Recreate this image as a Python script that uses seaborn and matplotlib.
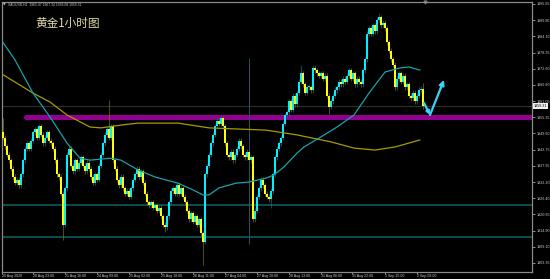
import numpy as np
import pandas as pd
import matplotlib
matplotlib.use("Agg")
import matplotlib.pyplot as plt
import seaborn as sns

# ---------------- data ----------------
closes = [1948, 1945, 1942, 1940,
          1937, 1934, 1932, 1933, 1931,
          1935, 1940, 1944, 1946, 1944,
          1947, 1950, 1951, 1948, 1952,
          1949, 1946, 1948, 1950, 1947,
          1946, 1944, 1940,
          1935, 1934,
          1928, 1917,
          1930, 1942, 1944,
          1938, 1936, 1940, 1937, 1939, 1941, 1938, 1936, 1939, 1937,
          1934, 1932, 1935, 1933,
          1938, 1942, 1946,
          1949, 1951, 1948, 1952,
          1940, 1937,
          1933, 1931, 1934,
          1930, 1928, 1929, 1927, 1930,
          1933, 1935, 1937, 1934, 1936,
          1932, 1928, 1925,
          1924, 1925, 1923, 1924, 1922, 1923,
          1920, 1917, 1916,
          1920, 1925, 1929,
          1930, 1928, 1931,
          1928, 1930, 1927,
          1925, 1922, 1919, 1921,
          1918, 1920, 1917, 1919,
          1914, 1911,
          1935,
          1938, 1942, 1946, 1949,
          1952, 1954, 1953, 1955, 1952,
          1946, 1942,
          1941, 1943, 1940, 1942,
          1944, 1947, 1945,
          1942, 1941, 1943, 1940, 1941,
          1919,
          1922, 1927,
          1930, 1933, 1931,
          1928, 1927, 1926, 1929,
          1935, 1941,
          1944, 1946, 1948,
          1953, 1956, 1957,
          1961, 1958,
          1963, 1960, 1964,
          1968, 1971,
          1967, 1964, 1966,
          1966, 1965,
          1973,
          1972, 1971, 1970, 1971, 1969, 1970,
          1963, 1959,
          1961, 1963, 1965,
          1966, 1968, 1967, 1969, 1968,
          1970, 1972, 1969,
          1971, 1967, 1969,
          1968, 1967,
          1972, 1976,
          1985,
          1987, 1985, 1988, 1986,
          1990, 1991,
          1988, 1989, 1987,
          1982, 1979,
          1976, 1974,
          1966,
          1969, 1971, 1968, 1970,
          1966, 1967,
          1963, 1962, 1964, 1961, 1963,
          1965, 1965.47,
          1959.31]
first_open = 1950.0
wick_up = 0.9
wick_dn = 0.9
high_override = {0: 1955.0, 33: 1945.4, 53: 1961.4, 149: 1974.0, 188: 1992.5, 210: 1967.34}
low_override = {30: 1911.5, 81: 1914.4, 100: 1902.6, 134: 1922.9, 163: 1956.5, 210: 1958.08}
spike_bar = 123
spike_range = (1910.0, 1976.4)

ma_fast_x = [-1.5, 6, 15, 23.5, 32, 38.5, 43.5, 54, 59, 67.5, 76, 87.5, 95, 100, 103, 108,
             116.5, 123, 131.5, 135.5, 140.5, 147, 150.5, 159, 167, 175.5, 183, 191, 198, 203, 208.5]
ma_fast_y = [1983.5, 1975.7, 1963.9, 1955.4, 1946.1, 1940.7, 1940.0, 1940.7, 1940.0, 1936.5, 1934.0,
             1931.8, 1929.4, 1927.6, 1927.6, 1930.1, 1931.8, 1932.2, 1933.6, 1934.7, 1937.6, 1942.5,
             1944.7, 1948.3, 1951.8, 1956.1, 1963.9, 1971.4, 1972.8, 1973.2, 1972.1]
ma_slow_x = [-1.5, 15, 23.5, 32, 43.5, 49, 59, 67.5, 87.5, 103, 131.5, 147, 164, 175.5, 186, 196, 208.5]
ma_slow_y = [1971.1, 1963.9, 1960.7, 1956.1, 1951.8, 1951.5, 1952.5, 1953.2, 1953.2, 1951.5,
             1950.7, 1949.0, 1946.5, 1944.3, 1943.6, 1944.7, 1947.2]

support_band = 1955.25
teal_levels = [1924.0, 1912.6]
bid_price = 1959.31

arrow_pts_x = [210.5, 213.5, 220.5]
arrow_pts_y = [1960.4, 1956.1, 1968.6]

yticks = [1995.65, 1989.90, 1984.10, 1978.35, 1972.60, 1966.80, 1961.05, 1955.25, 1949.50,
          1943.75, 1937.95, 1932.20, 1926.40, 1920.65, 1914.90, 1909.10, 1903.35]
xtick_pos = [-0.5, 15, 31, 47, 63, 79, 95, 111, 127, 143, 159, 174.5, 191, 207]
xtick_labels = ["20 Aug 2020", "20 Aug 23:00", "21 Aug 16:00", "24 Aug 09:00", "25 Aug 02:00",
                "25 Aug 18:00", "26 Aug 11:00", "27 Aug 04:00", "27 Aug 20:00", "28 Aug 13:00",
                "31 Aug 06:00", "31 Aug 22:00", "1 Sep 15:00", "2 Sep 08:00"]

# ---------------- build OHLC table ----------------
n = len(closes)
opens = [first_open] + closes[:-1]
df = pd.DataFrame({"i": np.arange(n), "open": opens, "close": closes})
df["high"] = [high_override.get(k, max(o, c) + wick_up) for k, o, c in zip(df.i, df.open, df.close)]
df["low"] = [low_override.get(k, min(o, c) - wick_dn) for k, o, c in zip(df.i, df.open, df.close)]
df["up"] = df.close >= df.open

# ---------------- style ----------------
sns.set_theme(style="dark")
plt.rcParams.update({
    "axes.facecolor": "black", "figure.facecolor": "black",
    "savefig.facecolor": "black", "axes.grid": False,
})
plt.rcParams["font.family"] = ["Liberation Sans", "DejaVu Sans"]

CYAN = "#00f0ff"
YEL = "#ffff00"
fig = plt.figure(figsize=(5.5, 2.79), dpi=100)
ax = fig.add_axes([2 / 550, 1 - 272 / 279, 530 / 550, 270 / 279])
ax.set_facecolor("black")

# horizontal levels
ax.axhline(bid_price, color="#2e2e2e", lw=0.8, zorder=1)
for lv in teal_levels:
    ax.axhline(lv, color="#0d5258", lw=1.3, zorder=1)
ax.axhline(support_band, xmin=(11.5 + 0.5) / 265, xmax=1, color="#8e028e", lw=3.7, zorder=1)

# wicks
up = df[df.up]
dn = df[~df.up]
ax.vlines(up.i, up.low, up.high, color="#1b6a70", lw=0.5, zorder=2)
ax.vlines(dn.i, dn.low, dn.high, color="#7a7000", lw=0.5, zorder=2)
ax.vlines([spike_bar], [spike_range[0]], [spike_range[1]], color="#24585e", lw=0.7, zorder=2)

# bodies
body_lo = np.minimum(df.open, df.close)
body_h = np.maximum(np.abs(df.close - df.open), 0.3)
ax.bar(df.i[df.up], body_h[df.up], bottom=body_lo[df.up], width=0.62, color=CYAN, linewidth=0, zorder=3)
ax.bar(df.i[~df.up], body_h[~df.up], bottom=body_lo[~df.up], width=0.62, color=YEL, linewidth=0, zorder=3)

# moving averages
sns.lineplot(x=ma_slow_x, y=ma_slow_y, ax=ax, color="#a89a00", lw=0.9, zorder=4)
sns.lineplot(x=ma_fast_x, y=ma_fast_y, ax=ax, color="#17a3ad", lw=0.9, zorder=4)

# arrows
ax.annotate("", xy=(arrow_pts_x[1], arrow_pts_y[1]), xytext=(arrow_pts_x[0], arrow_pts_y[0]),
            arrowprops=dict(arrowstyle="-|>", color="#38d4f8", lw=1.6, mutation_scale=5,
                            shrinkA=0, shrinkB=0), zorder=6)
ax.annotate("", xy=(arrow_pts_x[2], arrow_pts_y[2]), xytext=(arrow_pts_x[1], arrow_pts_y[1]),
            arrowprops=dict(arrowstyle="-|>", color="#38d4f8", lw=1.6, mutation_scale=7,
                            shrinkA=0, shrinkB=0), zorder=6)

# axes
ax.set_xlim(-0.5, 264.5)
ax.set_ylim(1900.14, 1996.36)
ax.yaxis.tick_right()
ax.set_yticks(yticks)
ax.set_yticklabels([f"{v:.2f}" for v in yticks])
ax.set_xticks(xtick_pos)
ax.set_xticklabels(xtick_labels, ha="left")
ax.tick_params(axis="y", colors="#c8c8c8", labelsize=2.7, length=2, width=0.5, pad=1.5,
               left=False, right=True)
ax.tick_params(axis="x", colors="#c8c8c8", labelsize=2.6, length=1.5, width=0.5, pad=0.2,
               bottom=True)
for lab in ax.get_xticklabels():
    lab.set_color("#c8c8c8")
for lab in ax.get_yticklabels():
    lab.set_color("#c8c8c8")
for s in ax.spines.values():
    s.set_color("#8a8a8a")
    s.set_linewidth(0.9)
ax.set_xlabel("")
ax.set_ylabel("")

# texts
fig.text(35 / 550, 1 - 23 / 279, "黄金1小时图", fontsize=8.4, color="#e2dca4",
         family=["Noto Sans CJK SC", "DejaVu Sans"], va="center", ha="left")
fig.text(3 / 550, 1 - 4.5 / 279, "▼", fontsize=2.4, color="#c8c8c8", va="center", ha="left",
         family=["DejaVu Sans"])
fig.text(8 / 550, 1 - 4.5 / 279, "XAUUSD,H1  1965.47 1967.34 1958.08 1959.31", fontsize=2.4,
         color="#c8c8c8", va="center", ha="left")
ax.text(1.003, (bid_price - 1900.14) / (1996.36 - 1900.14), f"{bid_price:.2f}",
        transform=ax.transAxes, fontsize=2.7, color="black", va="center", ha="left",
        bbox=dict(boxstyle="square,pad=0.15", fc="#f0f0f0", ec="none"), zorder=10, clip_on=False)
ax.plot([425 / 530 * 265 - 0.5 - 1], [1996.2], marker="v", color="#808080", ms=2, clip_on=False)

fig.savefig("out.png", dpi=100, facecolor="black")
